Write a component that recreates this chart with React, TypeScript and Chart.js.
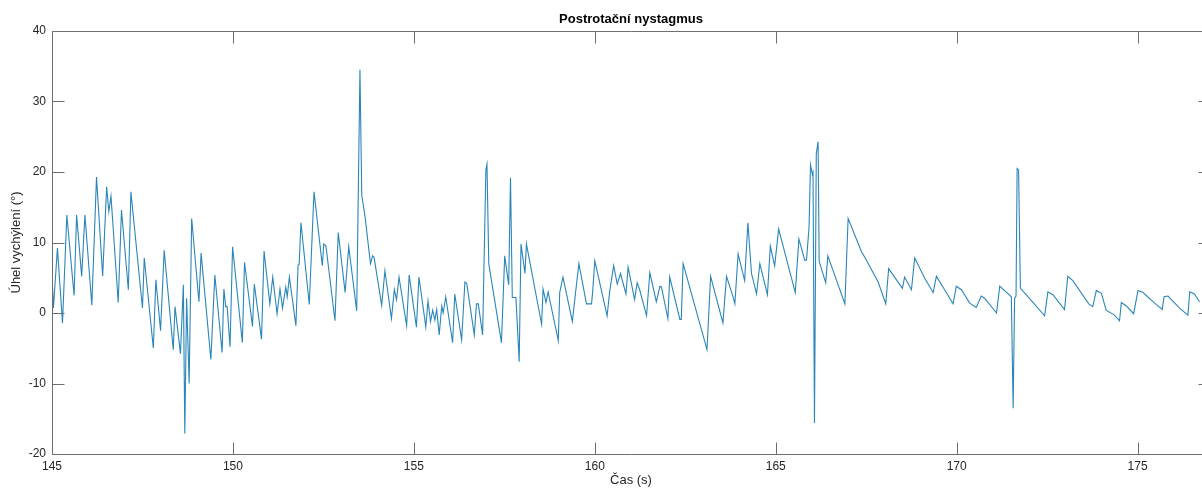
import React, { useEffect, useRef } from "react";
import { Chart, registerables } from "chart.js";

Chart.register(...registerables);

const chartTitle = "Postrotační nystagmus";
const xAxisLabel = "Čas (s)";
const yAxisLabel = "Úhel vychýlení (°)";

const xTicks = [145, 150, 155, 160, 165, 170, 175];
const yTicks = [-20, -10, 0, 10, 20, 30, 40];

const timeS = [
  145.0, 145.04, 145.15, 145.29, 145.41, 145.61, 145.68, 145.82, 145.91, 146.1,
  146.23, 146.4, 146.51, 146.57, 146.63, 146.83, 146.92, 147.11, 147.18, 147.5,
  147.55, 147.8, 147.87, 148.0, 148.1, 148.35, 148.4, 148.55, 148.63, 148.67,
  148.72, 148.79, 148.86, 149.06, 149.12, 149.39, 149.5, 149.7, 149.75, 149.8,
  149.84, 149.92, 149.99, 150.26, 150.32, 150.54, 150.59, 150.79, 150.86, 151.02,
  151.1, 151.22, 151.3, 151.37, 151.46, 151.5, 151.56, 151.74, 151.8, 151.83,
  151.88, 152.11, 152.24, 152.47, 152.51, 152.57, 152.82, 152.91, 153.1, 153.2,
  153.42, 153.51, 153.56, 153.65, 153.8, 153.86, 153.9, 154.11, 154.2, 154.38,
  154.46, 154.52, 154.59, 154.8, 154.87, 155.07, 155.14, 155.33, 155.39, 155.46,
  155.52, 155.58, 155.63, 155.7, 155.77, 155.81, 155.88, 156.07, 156.13, 156.32,
  156.41, 156.46, 156.67, 156.73, 156.78, 156.9, 156.99, 157.02, 157.07, 157.42,
  157.51, 157.62, 157.67, 157.72, 157.82, 157.91, 157.96, 158.07, 158.11, 158.53,
  158.57, 158.65, 158.71, 158.99, 159.03, 159.12, 159.38, 159.47, 159.56, 159.77,
  159.91, 159.94, 160.0, 160.34, 160.41, 160.52, 160.62, 160.71, 160.86, 160.92,
  161.1, 161.17, 161.24, 161.43, 161.52, 161.7, 161.8, 161.84, 162.02, 162.07,
  162.35, 162.39, 162.44, 163.1, 163.2, 163.54, 163.64, 163.82, 163.87, 163.96,
  164.14, 164.23, 164.33, 164.47, 164.56, 164.77, 164.85, 164.97, 165.08, 165.54,
  165.64, 165.8, 165.85, 165.92, 165.96, 166.01, 166.03, 166.07, 166.12, 166.17,
  166.2, 166.38, 166.44, 166.91, 167.0, 167.37, 167.46, 167.83, 168.04, 168.12,
  168.5, 168.56, 168.75, 168.84, 169.12, 169.35, 169.44, 169.62, 169.9, 169.99,
  170.13, 170.36, 170.54, 170.68, 170.77, 171.1, 171.19, 171.51, 171.56, 171.6,
  171.64, 171.67, 171.71, 171.76, 171.92, 172.43, 172.52, 172.66, 172.98, 173.07,
  173.21, 173.65, 173.76, 173.86, 174.0, 174.13, 174.36, 174.5, 174.55, 174.69,
  174.89, 175.01, 175.15, 175.47, 175.68, 175.73, 175.84, 176.16, 176.39, 176.44,
  176.57, 176.71,
];

const angleDeg = [
  5.6, 0.7, 9.2, -1.4, 13.9, 2.5, 13.9, 5.2, 13.9, 1.1,
  19.3, 5.2, 17.9, 14.4, 16.6, 1.5, 14.6, 3.3, 17.2, 0.7,
  7.8, -5.0, 4.7, -2.5, 8.9, -5.2, 0.9, -5.8, 4.0, -17.1,
  2.1, -10.0, 13.4, 1.6, 8.5, -6.6, 5.4, -5.6, 3.4, 0.9,
  0.9, -4.8, 9.4, -4.2, 7.2, -1.9, 4.1, -3.7, 8.8, 1.3,
  5.1, -0.1, 3.4, 0.7, 3.7, 2.3, 5.1, -1.8, 6.8, 6.9,
  12.8, 1.2, 17.2, 6.7, 9.8, 9.5, -1.1, 11.4, 2.9, 9.4,
  0.3, 34.5, 16.7, 13.7, 7.0, 8.1, 7.9, 1.1, 6.0, -0.8,
  3.3, 1.9, 5.1, -1.8, 5.4, -2.0, 5.1, -2.0, 1.7, -1.2,
  0.4, -1.0, 0.5, -3.1, 1.0, 0.0, 2.3, -4.2, 2.7, -3.8,
  4.4, 4.2, -3.1, 1.3, 1.3, -3.1, 20.3, 21.1, 7.0, -4.2,
  8.1, 4.0, 19.2, 2.2, 2.2, -6.9, 9.8, 5.6, 9.8, -1.6,
  3.4, 1.5, 3.0, -3.9, 2.9, 5.1, -1.2, 3.0, 7.0, 1.3,
  1.3, 3.0, 7.4, -0.4, 3.0, 6.7, 4.1, 5.6, 2.7, 6.5,
  1.9, 4.3, 3.3, -0.4, 5.7, 1.6, 3.8, 3.7, -0.8, 5.1,
  -0.9, -0.9, 7.0, -5.2, 5.2, -1.4, 5.2, 2.3, 1.3, 8.4,
  4.6, 12.8, 5.6, 2.7, 7.0, 2.6, 9.5, 6.7, 11.9, 2.9,
  10.5, 7.5, 7.5, 12.2, 21.0, 19.7, 20.0, -15.6, 22.6, 24.3,
  7.3, 4.3, 8.1, 1.3, 13.4, 8.7, 7.9, 4.4, 1.3, 6.3,
  3.5, 5.1, 3.3, 7.8, 4.9, 2.9, 5.2, 3.7, 1.3, 3.8,
  3.3, 1.4, 0.8, 2.4, 2.1, 0.0, 3.8, 2.3, -13.5, 2.1,
  2.4, 20.5, 20.3, 3.5, 2.6, -0.4, 3.0, 2.6, 0.5, 5.2,
  4.6, 1.3, 0.9, 3.2, 2.8, 0.4, -0.3, -1.1, 1.5, 1.0,
  -0.1, 3.2, 2.9, 1.4, 0.5, 2.3, 2.4, 0.7, -0.3, 3.0,
  2.7, 1.6,
];

const X_MIN = 145;
const X_MAX = 177;
const Y_MIN = -20;
const Y_MAX = 40;

const AXIS_COLOR = "#6e6e6e";
const TEXT_COLOR = "#262626";
const LINE_COLOR = "#2a86b8";
const FONT = '"Liberation Sans", Arial, Helvetica, sans-serif';

const framePlugin = {
  id: "matlabFrame",
  afterDraw(chart: any) {
    const { ctx, chartArea: a, scales } = chart;
    ctx.save();
    ctx.strokeStyle = AXIS_COLOR;
    ctx.lineWidth = 1;
    const L = Math.round(a.left) + 0.5;
    const R = Math.round(a.right) + 0.5;
    const T = Math.round(a.top) + 0.5;
    const B = Math.round(a.bottom) + 0.5;
    ctx.beginPath();
    ctx.moveTo(L, T);
    ctx.lineTo(R, T);
    ctx.lineTo(R, B);
    ctx.lineTo(L, B);
    ctx.closePath();
    const tl = 12;
    xTicks.forEach((v) => {
      const px = Math.round(scales.x.getPixelForValue(v)) + 0.5;
      ctx.moveTo(px, B);
      ctx.lineTo(px, B - tl);
      ctx.moveTo(px, T);
      ctx.lineTo(px, T + tl);
    });
    yTicks.forEach((v) => {
      const py = Math.round(scales.y.getPixelForValue(v)) + 0.5;
      ctx.moveTo(L, py);
      ctx.lineTo(L + tl, py);
      ctx.moveTo(R, py);
      ctx.lineTo(R - tl, py);
    });
    ctx.stroke();

    ctx.fillStyle = "#000";
    ctx.textAlign = "center";
    ctx.textBaseline = "middle";
    ctx.font = `bold 13px ${FONT}`;
    ctx.fillText(chartTitle, (a.left + a.right) / 2, 19);

    ctx.fillStyle = TEXT_COLOR;
    ctx.font = `13px ${FONT}`;
    ctx.fillText(xAxisLabel, (a.left + a.right) / 2, 480);

    ctx.save();
    ctx.translate(16, (a.top + a.bottom) / 2);
    ctx.rotate(-Math.PI / 2);
    ctx.fillText(yAxisLabel, 0, 0);
    ctx.restore();
    ctx.restore();
  },
};

export default function App() {
  const canvasRef = useRef<HTMLCanvasElement | null>(null);

  useEffect(() => {
    const canvas = canvasRef.current;
    if (!canvas) return;
    const points = timeS.map((t, i) => ({ x: t, y: angleDeg[i] }));
    const chart = new Chart(canvas, {
      type: "line",
      data: {
        datasets: [
          {
            data: points,
            borderColor: LINE_COLOR,
            borderWidth: 1.1,
            pointRadius: 0,
            fill: false,
            tension: 0,
          },
        ],
      },
      options: {
        responsive: false,
        animation: false,
        layout: { padding: { left: 0, top: 31, right: 10, bottom: 0 } },
        plugins: {
          legend: { display: false },
          tooltip: { enabled: false },
          title: { display: false },
        },
        scales: {
          x: {
            type: "linear",
            min: X_MIN,
            max: X_MAX,
            grid: { display: false, drawTicks: false },
            border: { display: false },
            afterBuildTicks: (s: any) => {
              s.ticks = xTicks.map((v) => ({ value: v }));
            },
            afterFit: (s: any) => {
              s.height = 34;
            },
            ticks: {
              color: TEXT_COLOR,
              font: { family: FONT, size: 12 },
              padding: 5,
              maxRotation: 0,
              autoSkip: false,
              callback: (v: any) => String(v),
            },
          },
          y: {
            type: "linear",
            min: Y_MIN,
            max: Y_MAX,
            grid: { display: false, drawTicks: false },
            border: { display: false },
            afterBuildTicks: (s: any) => {
              s.ticks = yTicks.map((v) => ({ value: v }));
            },
            afterFit: (s: any) => {
              s.width = 52;
            },
            ticks: {
              color: TEXT_COLOR,
              font: { family: FONT, size: 12 },
              padding: 6,
              autoSkip: false,
              callback: (v: any) => String(v),
            },
          },
        },
      },
      plugins: [framePlugin],
    });
    return () => chart.destroy();
  }, []);

  return (
    <div
      style={{
        position: "fixed",
        left: 0,
        top: 0,
        width: 1220,
        height: 488,
        background: "#fff",
        overflow: "hidden",
      }}
    >
      <canvas
        ref={canvasRef}
        width={1220}
        height={488}
        style={{ display: "block", width: 1220, height: 488 }}
      />
    </div>
  );
}
